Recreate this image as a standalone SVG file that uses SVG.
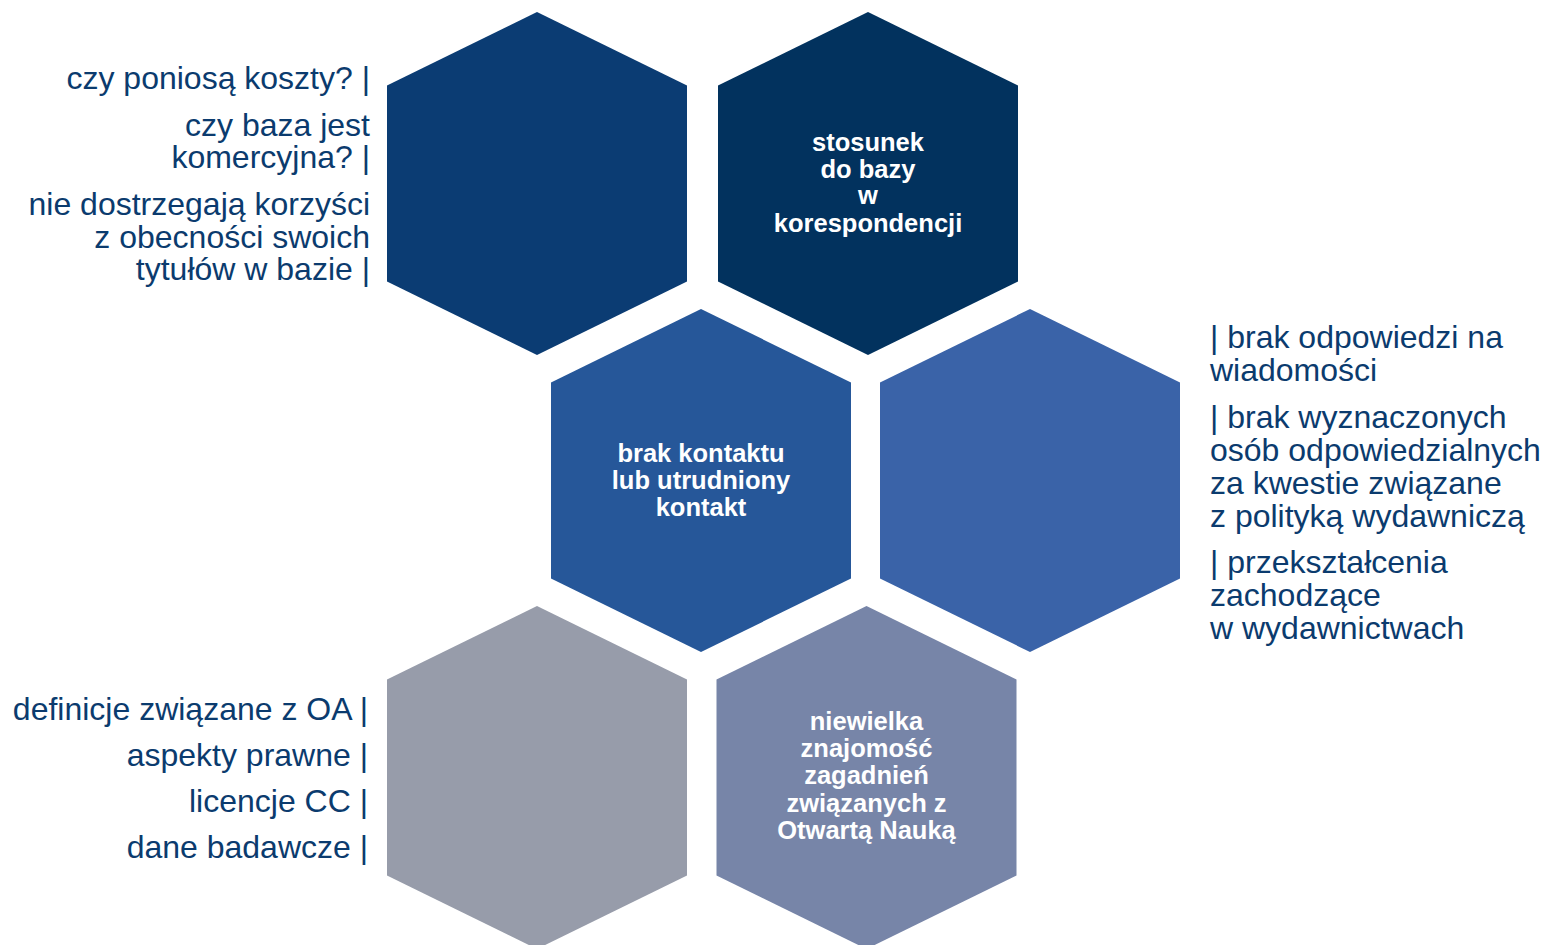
<svg xmlns="http://www.w3.org/2000/svg" xmlns:xlink="http://www.w3.org/1999/xlink" width="1546" height="945" viewBox="0 0 1546 945">
<style>
.side{font-family:"Liberation Sans",Arial,sans-serif;font-size:32px;fill:#0b3b6e}
.end{text-anchor:end}
.lbl{font-family:"Liberation Sans",Arial,sans-serif;font-size:25.5px;font-weight:bold;fill:#ffffff;text-anchor:middle}
</style>
<defs>
<path id="hex" d="M0,-171.5 L150,-98 L150,98 L0,171.5 L-150,98 L-150,-98 Z"/>
</defs>
<rect width="1546" height="945" fill="#ffffff"/>
<g id="connectors"/>
<g id="hex1">
<use xlink:href="#hex" transform="translate(537,183.5)" fill="#0b3c73"/>
</g>
<g id="hex2">
<use xlink:href="#hex" transform="translate(868,183.5)" fill="#02325e"/>
<text class="lbl"><tspan x="868" y="151">stosunek</tspan><tspan x="868" y="178">do bazy</tspan><tspan x="868" y="204">w</tspan><tspan x="868" y="232">korespondencji</tspan></text>
</g>
<g id="hex3">
<use xlink:href="#hex" transform="translate(701,480.5)" fill="#265799"/>
<text class="lbl"><tspan x="701" y="462">brak kontaktu</tspan><tspan x="701" y="489">lub utrudniony</tspan><tspan x="701" y="516">kontakt</tspan></text>
</g>
<g id="hex4">
<use xlink:href="#hex" transform="translate(1030,480.5)" fill="#3a63a8"/>
</g>
<g id="hex5">
<use xlink:href="#hex" transform="translate(537,777.5)" fill="#979caa"/>
</g>
<g id="hex6">
<use xlink:href="#hex" transform="translate(866.5,777.5)" fill="#7785a8"/>
<text class="lbl"><tspan x="866.5" y="730">niewielka</tspan><tspan x="866.5" y="757">znajomość</tspan><tspan x="866.5" y="784">zagadnień</tspan><tspan x="866.5" y="812">związanych z</tspan><tspan x="866.5" y="839">Otwartą Nauką</tspan></text>
</g>
<g id="text-top-left">
<text class="side end"><tspan x="370" y="89">czy poniosą koszty? |</tspan></text>
<text class="side end"><tspan x="370" y="136">czy baza jest</tspan><tspan x="370" y="168">komercyjna? |</tspan></text>
<text class="side end"><tspan x="370" y="215">nie dostrzegają korzyści</tspan><tspan x="370" y="248">z obecności swoich</tspan><tspan x="370" y="280">tytułów w bazie |</tspan></text>
</g>
<g id="text-right">
<text class="side"><tspan x="1210" y="348">| brak odpowiedzi na</tspan><tspan x="1210" y="381">wiadomości</tspan></text>
<text class="side"><tspan x="1210" y="428">| brak wyznaczonych</tspan><tspan x="1210" y="461">osób odpowiedzialnych</tspan><tspan x="1210" y="494">za kwestie związane</tspan><tspan x="1210" y="527">z polityką wydawniczą</tspan></text>
<text class="side"><tspan x="1210" y="573">| przekształcenia</tspan><tspan x="1210" y="606">zachodzące</tspan><tspan x="1210" y="639">w wydawnictwach</tspan></text>
</g>
<g id="text-bottom-left">
<text class="side end"><tspan x="368" y="720">definicje związane z OA |</tspan></text>
<text class="side end"><tspan x="368" y="766">aspekty prawne |</tspan></text>
<text class="side end"><tspan x="368" y="812">licencje CC |</tspan></text>
<text class="side end"><tspan x="368" y="858">dane badawcze |</tspan></text>
</g>
</svg>
